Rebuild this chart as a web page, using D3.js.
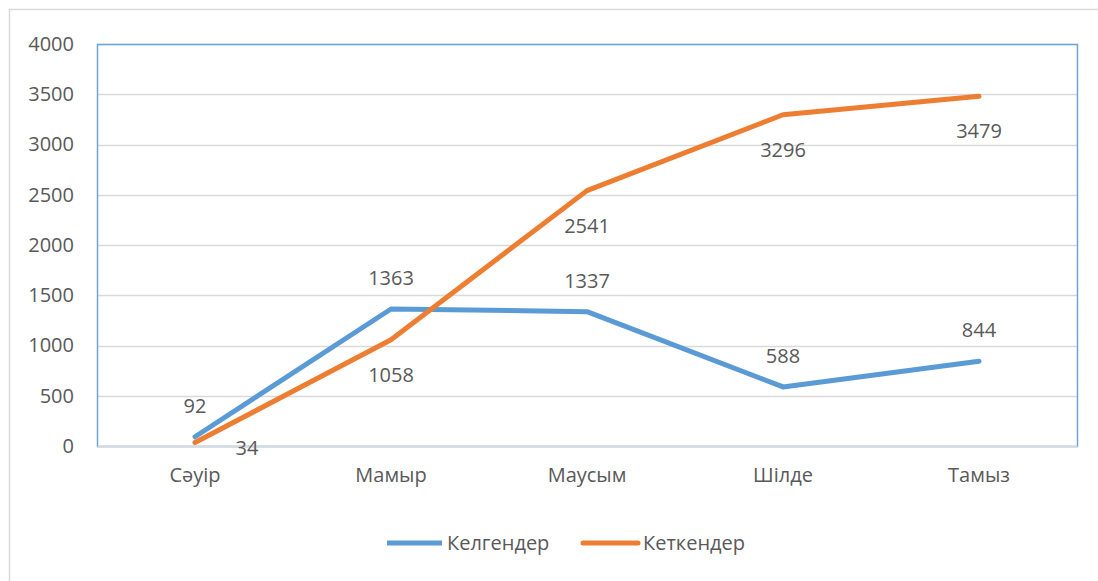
<!DOCTYPE html>
<html>
<head>
<meta charset="utf-8">
<script src="https://cdn.jsdelivr.net/npm/d3@7"></script>
<style>
  body { margin: 0; background: #fff; }
  text { font-family: "Open Sans", "Liberation Sans", sans-serif; fill: #595959; }
</style>
</head>
<body>
<div id="chart"></div>
<script>
(function () {

// data
const months = ["Сәуір", "Мамыр", "Маусым", "Шілде", "Тамыз"];
const arrived = [92, 1363, 1337, 588, 844];     // Келгендер
const departed = [34, 1058, 2541, 3296, 3479];  // Кеткендер
const seriesNames = ["Келгендер", "Кеткендер"];
const yTicks = [0, 500, 1000, 1500, 2000, 2500, 3000, 3500, 4000];

const W = 1098, H = 581;
const margin = {top: 44, right: 21, bottom: 135, left: 97};
const width = W - margin.left - margin.right,
      height = H - margin.top - margin.bottom;

const colors = ["#5b9bd5", "#ed7d31"];
const fontSize = 20;

const root = d3.select("#chart").append("svg")
    .attr("width", W)
    .attr("height", H);

// outer chart frame
root.append("path")
    .attr("d", "M9.5," + H + "V9.5H" + W)
    .attr("fill", "none")
    .attr("stroke", "#d9d9d9")
    .attr("stroke-width", 1.5);

const svg = root.append("g")
    .attr("transform", "translate(" + margin.left + "," + margin.top + ")");

const x = d3.scaleBand().domain(months).range([0, width]);
const y = d3.scaleLinear().domain([0, 4000]).range([height, 0]);

// gridlines
svg.selectAll("line.grid")
  .data(yTicks)
  .join("line")
  .attr("class", "grid")
  .attr("x1", 0).attr("x2", width)
  .attr("y1", d => Math.round(y(d)) + 0.5).attr("y2", d => Math.round(y(d)) + 0.5)
  .attr("stroke", "#d9d9d9")
  .attr("stroke-width", 1.3);

// plot area border
svg.append("rect")
  .attr("x", 0.5).attr("y", 0.5)
  .attr("width", width).attr("height", height)
  .attr("fill", "none")
  .attr("stroke", "#6fa3d8")
  .attr("stroke-width", 1.5);

// y axis labels
const yAxis = d3.axisLeft(y).tickValues(yTicks).tickFormat(d3.format("d")).tickSize(0).tickPadding(23);
svg.append("g").call(yAxis)
  .call(g => g.select(".domain").remove())
  .selectAll("text")
  .attr("font-size", fontSize)
  .style("font-family", "'Open Sans', sans-serif")
  .attr("fill", "#595959");

// x axis labels
const xAxis = d3.axisBottom(x).tickSize(0).tickPadding(22);
svg.append("g")
  .attr("transform", "translate(0," + height + ")")
  .call(xAxis)
  .call(g => g.select(".domain").attr("stroke", "#d9d9d9").attr("stroke-width", 1.5))
  .selectAll("text")
  .attr("font-size", fontSize)
  .style("font-family", "'Open Sans', sans-serif")
  .attr("fill", "#595959");

const cx = i => x(months[i]) + x.bandwidth() / 2;

const line = d3.line()
  .x((d, i) => cx(i))
  .y(d => y(d));

const series = [arrived, departed];

series.forEach(function (vals, s) {
  svg.append("path")
    .datum(vals)
    .attr("d", line)
    .attr("fill", "none")
    .attr("stroke", colors[s])
    .attr("stroke-width", 5)
    .attr("stroke-linejoin", "round")
    .attr("stroke-linecap", "round");

  // data labels: blue above, orange below (shifted right if it would hit the axis)
  svg.selectAll("text.lbl" + s)
    .data(vals)
    .join("text")
    .attr("class", "lbl" + s)
    .attr("x", (d, i) => {
      if (s === 1 && y(d) + 42 > height) return cx(i) + 52;
      return cx(i);
    })
    .attr("y", d => {
      if (s === 0) return y(d) - 24;
      if (y(d) + 42 > height) return y(d) + 12;
      return y(d) + 42;
    })
    .attr("text-anchor", "middle")
    .attr("font-size", fontSize)
    .text(d => d);
});

// legend
const legend = root.append("g");
const legendX = [387, 583];
seriesNames.forEach(function (name, i) {
  legend.append("line")
    .attr("x1", legendX[i]).attr("x2", legendX[i] + 55)
    .attr("y1", 543).attr("y2", 543)
    .attr("stroke", colors[i])
    .attr("stroke-width", 5)
    .attr("stroke-linecap", i === 1 ? "round" : "butt");
  legend.append("text")
    .attr("x", legendX[i] + 60)
    .attr("y", 550)
    .attr("font-size", fontSize)
    .text(name);
});

})()
</script>
</body>
</html>
